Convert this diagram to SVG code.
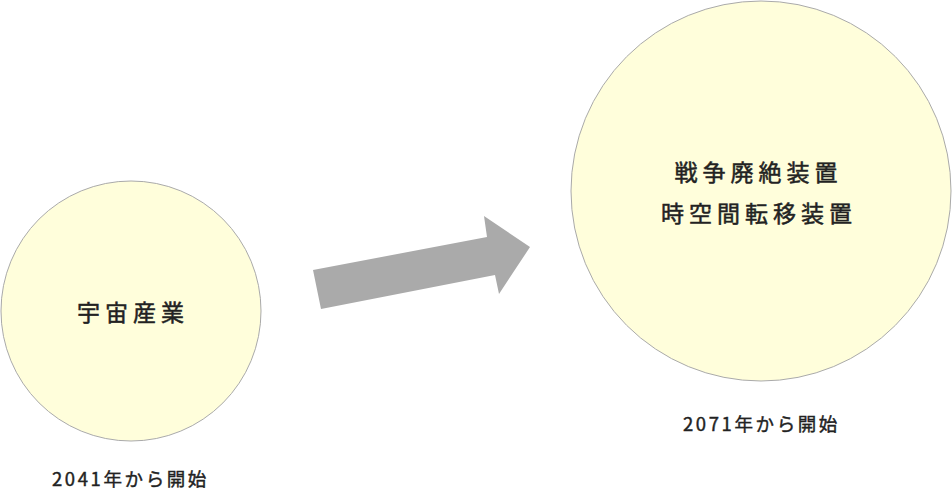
<svg xmlns="http://www.w3.org/2000/svg" width="952" height="488" viewBox="0 0 952 488">
<style>
.c{fill:#FFFEDB;stroke:#AAAAAA;stroke-width:1}
.t{font-family:"Noto Sans CJK JP","Noto Sans",sans-serif;fill:#222222;stroke:#222222;stroke-width:0.5px;text-anchor:middle;dominant-baseline:central;font-weight:400}
.big{font-size:23px;letter-spacing:5px}
.sm{font-size:18.5px;letter-spacing:2.6px;stroke-width:0.4px}
</style>
<rect width="952" height="488" fill="#FFFFFF"/>
<g id="connectors">
<polygon points="313,270 487,237 484,216 530,247 499,294 495,275 321,309" fill="#AAAAAA"/>
</g>
<g id="node-space-industry">
<circle class="c" cx="131" cy="311" r="130"/>
<text class="t big" x="133" y="311">宇宙産業</text>
</g>
<g id="node-devices">
<circle class="c" cx="761" cy="191" r="190"/>
<text class="t big" x="758.5" y="171">戦争廃絶装置</text>
<text class="t big" x="759" y="211.5">時空間転移装置</text>
</g>
<g id="label-2041">
<text class="t sm" x="130.5" y="478">2041年から開始</text>
</g>
<g id="label-2071">
<text class="t sm" x="761.5" y="422.5">2071年から開始</text>
</g>
</svg>
